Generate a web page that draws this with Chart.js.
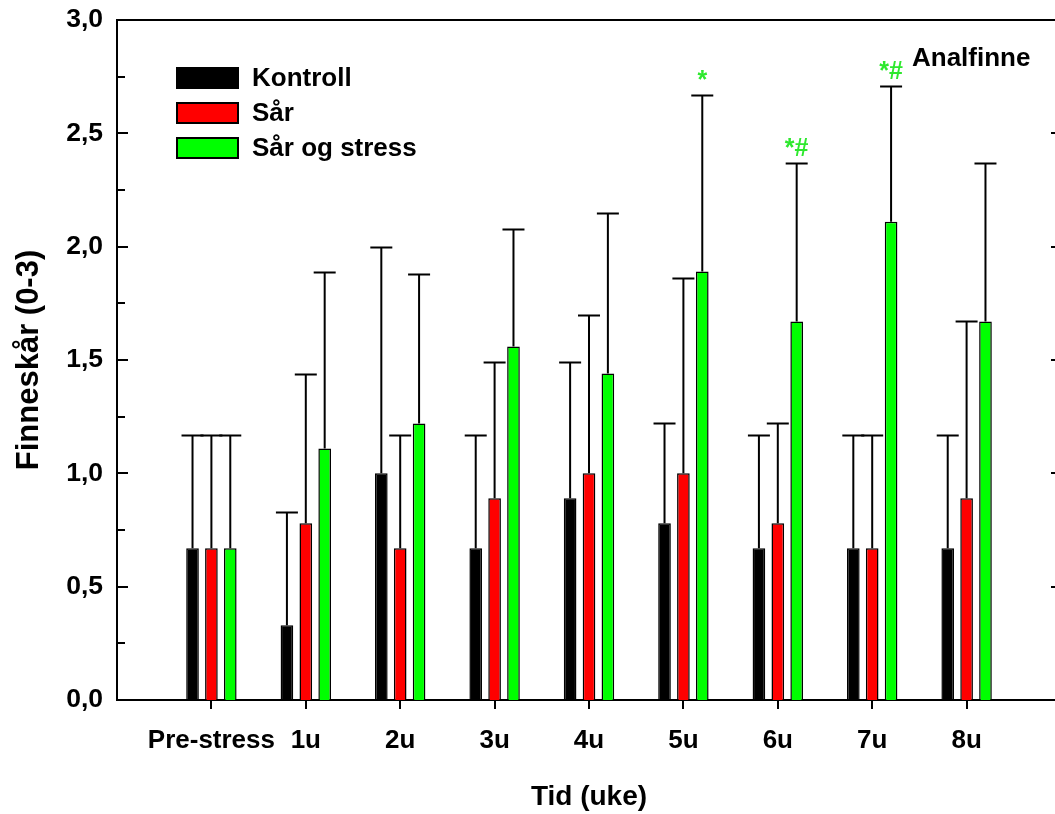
<!DOCTYPE html>
<html>
<head>
<meta charset="utf-8">
<script src="https://cdn.jsdelivr.net/npm/chart.js@4.4.1/dist/chart.umd.min.js"></script>
<style>
  html, body { margin: 0; padding: 0; background: #fff; overflow: hidden; }
  #wrap { width: 1077px; height: 814px; }
</style>
</head>
<body>
<div id="wrap"><canvas id="finneChart"></canvas></div>
<script>
// Tidspunkter (tomme plasser i hver ende gir luft mot rammen)
const categories = ['', 'Pre-stress', '1u', '2u', '3u', '4u', '5u', '6u', '7u', '8u', ''];

// Gjennomsnittlig finneskår og standardavvik (kun oppover)
const kontroll    = [null, 0.67, 0.33, 1.00, 0.67, 0.89, 0.78, 0.67, 0.67, 0.67, null];
const kontrollSd  = [null, 0.50, 0.50, 1.00, 0.50, 0.60, 0.44, 0.50, 0.50, 0.50, null];
const sar         = [null, 0.67, 0.78, 0.67, 0.89, 1.00, 1.00, 0.78, 0.67, 0.89, null];
const sarSd       = [null, 0.50, 0.66, 0.50, 0.60, 0.70, 0.86, 0.44, 0.50, 0.78, null];
const sarStress   = [null, 0.67, 1.11, 1.22, 1.56, 1.44, 1.89, 1.67, 2.11, 1.67, null];
const sarStressSd = [null, 0.50, 0.78, 0.66, 0.52, 0.71, 0.78, 0.70, 0.60, 0.70, null];

// Signifikansmerker over "Sår og stress"
const sarStressMarks = ['', '', '', '', '', '', '*', '*#', '*#', '', ''];

const yTicks = [0, 0.5, 1, 1.5, 2, 2.5, 3];

const FONT = "'Liberation Sans', Arial, sans-serif";
const GREEN_TXT = '#2ee82e';

// Feilstolper: loddrett strek fra søyletopp og en tverrstrek øverst
const errorBars = {
  id: 'errorBars',
  afterDatasetsDraw(chart) {
    const { ctx, scales: { y } } = chart;
    ctx.save();
    ctx.strokeStyle = '#000';
    ctx.lineWidth = 2;
    chart.data.datasets.forEach((ds, i) => {
      const meta = chart.getDatasetMeta(i);
      meta.data.forEach((bar, j) => {
        const v = ds.data[j];
        const sd = ds.sd[j];
        if (v == null || sd == null) return;
        const y0 = y.getPixelForValue(v);
        const y1 = Math.round(y.getPixelForValue(v + sd)) + 0.5;
        ctx.beginPath();
        ctx.moveTo(bar.x, y0);
        ctx.lineTo(bar.x, y1);
        ctx.moveTo(bar.x - 11, y1);
        ctx.lineTo(bar.x + 11, y1);
        ctx.stroke();
        const mark = ds.marks ? ds.marks[j] : '';
        if (mark) {
          ctx.fillStyle = GREEN_TXT;
          ctx.font = 'bold 25px ' + FONT;
          ctx.textAlign = 'center';
          ctx.textBaseline = 'alphabetic';
          ctx.fillText(mark, bar.x, y1 - 8);
        }
      });
    });
    ctx.restore();
  }
};

// Ramme oppe og til høyre, innovervendte merker på begge y-akser
const frame = {
  id: 'frame',
  afterDraw(chart) {
    const { ctx, chartArea: a, scales: { y } } = chart;
    ctx.save();
    ctx.strokeStyle = '#000';
    ctx.lineWidth = 2;
    ctx.beginPath();
    ctx.moveTo(a.left, a.top);
    ctx.lineTo(a.right, a.top);
    ctx.lineTo(a.right, a.bottom);
    ctx.stroke();
    for (let k = 1; k < 12; k++) {
      const v = k * 0.25;
      const py = Math.round(y.getPixelForValue(v));
      const major = k % 2 === 0;
      ctx.beginPath();
      ctx.moveTo(a.left, py);
      ctx.lineTo(a.left + (major ? 11 : 8), py);
      ctx.moveTo(a.right, py);
      ctx.lineTo(a.right - (major ? 10 : 6), py);
      ctx.stroke();
    }
    // legende
    ctx.font = 'bold 26px ' + FONT;
    ctx.textBaseline = 'middle';
    ctx.textAlign = 'left';
    chart.data.datasets.forEach((ds, i) => {
      const top = 68 + i * 35;
      ctx.fillStyle = ds.backgroundColor;
      ctx.fillRect(177, top, 61, 20);
      ctx.lineWidth = 2;
      ctx.strokeRect(177, top, 61, 20);
      ctx.fillStyle = '#000';
      ctx.fillText(ds.label, 252, top + 11);
    });
    ctx.font = 'bold 26px ' + FONT;
    ctx.fillText('Analfinne', 912, 59);
    ctx.restore();
  }
};

function barSet(label, data, sd, color, marks) {
  return {
    label, data, sd, marks,
    backgroundColor: color,
    borderColor: '#000',
    borderWidth: 1.5,
    categoryPercentage: 0.6,
    barPercentage: 0.67
  };
}

new Chart(document.getElementById('finneChart'), {
  type: 'bar',
  data: {
    labels: categories,
    datasets: [
      barSet('Kontroll', kontroll, kontrollSd, '#000000'),
      barSet('Sår', sar, sarSd, '#ff0000'),
      barSet('Sår og stress', sarStress, sarStressSd, '#00ff00', sarStressMarks)
    ]
  },
  options: {
    responsive: true,
    maintainAspectRatio: false,
    animation: false,
    layout: { padding: { top: 20, right: 2, bottom: 0, left: 0 } },
    plugins: {
      legend: { display: false },
      tooltip: { enabled: false }
    },
    scales: {
      x: {
        offset: false,
        grid: {
          display: true,
          offset: false,
          drawOnChartArea: false,
          drawTicks: true,
          tickLength: 9,
          lineWidth: 2,
          color: ctx => (ctx.index === 0 || ctx.index === categories.length - 1) ? 'rgba(0,0,0,0)' : '#000'
        },
        border: { display: true, color: '#000', width: 2 },
        ticks: {
          autoSkip: false,
          maxRotation: 0,
          minRotation: 0,
          padding: 16,
          color: '#000',
          font: { family: FONT, size: 26, weight: 'bold' }
        },
        title: {
          display: true,
          text: 'Tid (uke)',
          color: '#000',
          font: { family: FONT, size: 28, weight: 'bold' },
          padding: { top: 0, bottom: 0 }
        },
        afterFit: s => { s.height = 114; }
      },
      y: {
        min: 0,
        max: 3,
        afterBuildTicks: s => { s.ticks = yTicks.map(v => ({ value: v })); },
        grid: { display: false, drawTicks: false, tickLength: 0 },
        border: { display: true, color: '#000', width: 2 },
        ticks: {
          padding: 14,
          color: '#000',
          font: { family: FONT, size: 26.5, weight: 'bold' },
          callback: v => v.toFixed(1).replace('.', ',')
        },
        title: {
          display: true,
          text: 'Finneskår (0-3)',
          color: '#000',
          font: { family: FONT, size: 31, weight: 'bold' },
          padding: { top: 11, bottom: 0 }
        },
        afterFit: s => {
          s.width = 117;
          s.paddingTop = 0;
          s.paddingBottom = 0;
        }
      }
    }
  },
  plugins: [errorBars, frame]
});
</script>
</body>
</html>
